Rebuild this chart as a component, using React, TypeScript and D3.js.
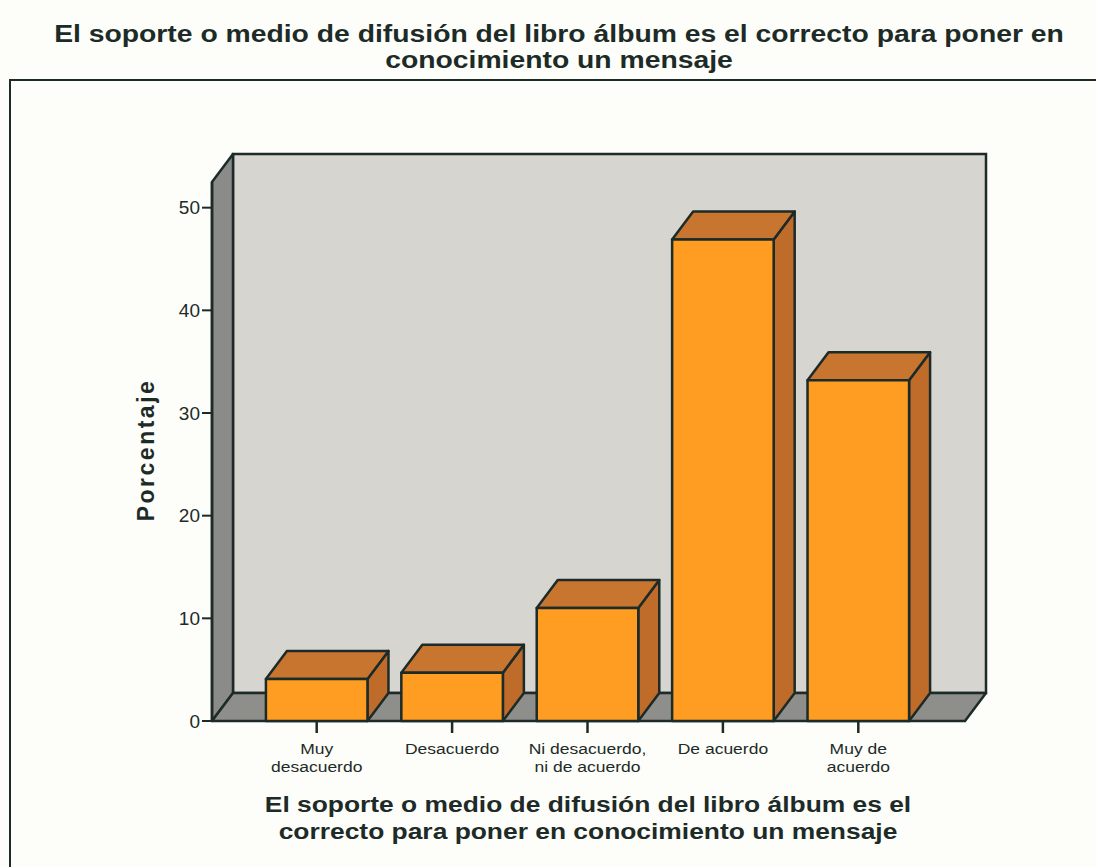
import React from "react";
import * as d3 from "d3";

const categories = ["Muy desacuerdo", "Desacuerdo", "Ni desacuerdo, ni de acuerdo", "De acuerdo", "Muy de acuerdo"];
const categoryLines = [["Muy", "desacuerdo"], ["Desacuerdo"], ["Ni desacuerdo,", "ni de acuerdo"], ["De acuerdo"], ["Muy de", "acuerdo"]];
const percentages = [4.1, 4.7, 11.0, 46.9, 33.2];
const yTicks = [0, 10, 20, 30, 40, 50];
const titleLines = ["El soporte o medio de difusión del libro álbum es el correcto para poner en", "conocimiento un mensaje"];
const xTitleLines = ["El soporte o medio de difusión del libro álbum es el", "correcto para poner en conocimiento un mensaje"];
const yTitle = "Porcentaje";

const W = 1096, H = 867;
const INK = "#1d2b28";
const DX = 21, DY = -28;
const plotLeft = 212, plotRight = 965, plotBottom = 721;

export default function App() {
  const y = d3.scaleLinear().domain([0, 52.5]).range([plotBottom, 182]);
  const x = d3.scaleBand<string>().domain(categories).range([249, 926]).paddingInner(0.25).paddingOuter(0.125);
  const top = y(52.5);
  const bw = x.bandwidth();
  const pts = (a: number[][]) => a.map(p => p.join(",")).join(" ");

  return (
    <svg width={W} height={H} style={{ position: "absolute", left: 0, top: 0, background: "#fdfdf9" }} fontFamily="'Liberation Sans', Arial, sans-serif">
      <rect x={0} y={0} width={W} height={H} fill="#fdfdf9" />
      {titleLines.map((t, i) => (
        <text key={i} transform={`translate(559,${42 + i * 26}) scale(1.18,1)`} textAnchor="middle" fontSize={24} fontWeight="bold" fill={INK}>{t}</text>
      ))}
      <rect x={10} y={80} width={W + 20} height={H} fill="none" stroke={INK} strokeWidth={2} />
      {/* back wall */}
      <rect x={plotLeft + DX} y={top + DY} width={plotRight - plotLeft} height={plotBottom - top} fill="#d6d5d0" stroke={INK} strokeWidth={2.5} />
      {/* left wall */}
      <polygon points={pts([[plotLeft, top], [plotLeft + DX, top + DY], [plotLeft + DX, plotBottom + DY], [plotLeft, plotBottom]])} fill="#8b8b89" stroke={INK} strokeWidth={2.5} strokeLinejoin="round" />
      {/* floor */}
      <polygon points={pts([[plotLeft, plotBottom], [plotLeft + DX, plotBottom + DY], [plotRight + DX, plotBottom + DY], [plotRight, plotBottom]])} fill="#8e8e8b" stroke={INK} strokeWidth={2.5} strokeLinejoin="round" />
      {/* y ticks */}
      {yTicks.map(t => (
        <g key={t}>
          <line x1={plotLeft - 10} x2={plotLeft} y1={y(t)} y2={y(t)} stroke={INK} strokeWidth={2} />
          <text x={plotLeft - 12} y={y(t)} dy="0.35em" textAnchor="end" fontSize={19} fill={INK}>{t}</text>
        </g>
      ))}
      <line x1={plotLeft} x2={plotLeft} y1={top} y2={plotBottom} stroke={INK} strokeWidth={2.5} />
      <text transform={`translate(154,450) rotate(-90)`} textAnchor="middle" fontSize={23} fontWeight="bold" letterSpacing={2.5} fill={INK}>{yTitle}</text>
      {/* bars */}
      {categories.map((c, i) => {
        const x0 = x(c)!;
        const x1 = x0 + bw;
        const yt = y(percentages[i]);
        return (
          <g key={c} stroke={INK} strokeWidth={2.5} strokeLinejoin="round">
            <polygon points={pts([[x1, yt], [x1 + DX, yt + DY], [x1 + DX, plotBottom + DY], [x1, plotBottom]])} fill="#bf6b2a" />
            <polygon points={pts([[x0, yt], [x0 + DX, yt + DY], [x1 + DX, yt + DY], [x1, yt]])} fill="#c7752f" />
            <rect x={x0} y={yt} width={bw} height={plotBottom - yt} fill="#fe9d22" />
          </g>
        );
      })}
      {/* x ticks & labels */}
      {categories.map((c, i) => {
        const cx = x(c)! + bw / 2;
        return (
          <g key={c}>
            <line x1={cx} x2={cx} y1={plotBottom} y2={plotBottom + 12} stroke={INK} strokeWidth={2.5} />
            {categoryLines[i].map((l, j) => (
              <text key={j} transform={`translate(${cx},${754 + j * 17.5}) scale(1.13,1)`} textAnchor="middle" fontSize={15.5} fill={INK}>{l}</text>
            ))}
          </g>
        );
      })}
      {xTitleLines.map((t, i) => (
        <text key={i} transform={`translate(588,${812 + i * 27}) scale(1.2,1)`} textAnchor="middle" fontSize={22} fontWeight="bold" fill={INK}>{t}</text>
      ))}
    </svg>
  );
}
